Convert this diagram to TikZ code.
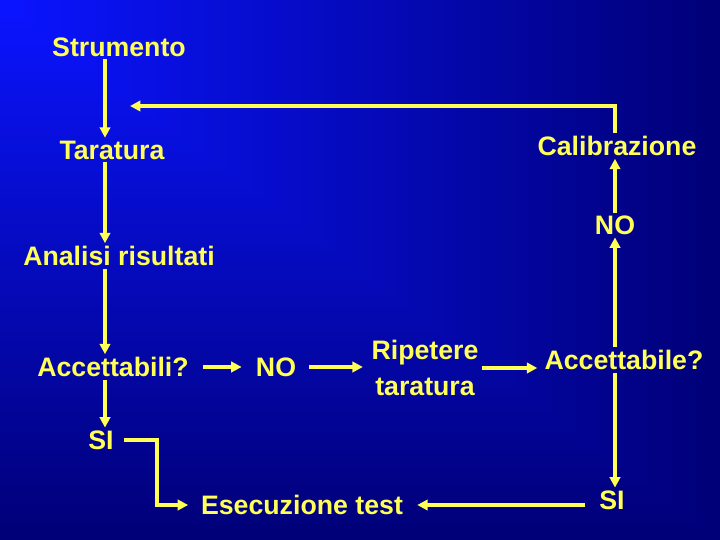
\documentclass[tikz,border=0pt]{standalone}
\usepackage{fontspec}
\setmainfont{Liberation Sans}
\usetikzlibrary{arrows.meta}
\definecolor{bgtl}{HTML}{0A14FF}
\definecolor{bgnv}{HTML}{000078}
\definecolor{txtyel}{HTML}{FFFF55}

\begin{document}
\begin{tikzpicture}[
  >={Triangle[length=2.6mm, width=2.6mm]},
  lab/.style={text=txtyel, font=\fontsize{19}{21}\selectfont\bfseries,
    inner sep=2pt, text depth=0pt, align=center},
  conn/.style={draw=txtyel, line width=2.4pt}
]
% background, brightest in the top left corner
\foreach \i in {0,...,59} {
  \pgfmathsetmacro\t{1-\i/60}
  \pgfmathsetmacro\p{100*\i/59}
  \fill[bgtl!\p!bgnv] (0,13.5) rectangle (18*\t,13.5-13.5*\t);
}
\useasboundingbox (0,0) rectangle (18,13.5);
% the two columns of vertical connectors
\coordinate (lx) at (2.625,0);
\coordinate (rx) at (15.375,0);
\coordinate (elb) at (3.925,0);
\coordinate (back) at (3.25,10.85);
% left column
\node[lab] (strum) at (2.975,12.325) {Strumento};
\node[lab] (tar) at (2.8,9.75) {Taratura};
\node[lab] (anal) at (2.975,7.1) {Analisi risultati};
\node[lab] (acci) at (2.825,4.325) {Accettabili?};
\node[lab] (siA) at (2.525,2.5) {SI};
\draw[conn, ->] (strum.south -| lx) -- (tar.north -| lx);
\draw[conn, ->] (tar.south -| lx) -- (anal.north -| lx);
\draw[conn, ->] (anal.south -| lx) -- (acci.north -| lx);
\draw[conn, ->] (acci.south -| lx) -- (siA.north -| lx);
% middle row
\node[lab] (noA) at (6.9,4.325) {NO};
\node[lab, font=\fontsize{19}{26}\selectfont\bfseries] (rip) at (10.625,4.3)
  {Ripetere\\ taratura};
\draw[conn, ->, shorten <=8pt, shorten >=8pt] (acci.east) -- (noA.west);
\draw[conn, ->, shorten <=7pt, shorten >=4pt] (noA.east) -- (noA.east -| rip.west);
% right column
\node[lab] (acce) at (15.6,4.5) {Accettabile?};
\node[lab] (noB) at (15.375,7.875) {NO};
\node[lab] (cal) at (15.425,9.85) {Calibrazione};
\node[lab] (siB) at (15.3,1.0) {SI};
\draw[conn, ->, shorten >=3pt] (rip.east) -- (rip.east -| acce.west);
\draw[conn, ->] (acce.north -| rx) -- (noB.south -| rx);
\draw[conn, ->] (noB.north -| rx) -- (cal.south -| rx);
\draw[conn, ->] (cal.north -| rx) |- (back);
\draw[conn, ->] (acce.south -| rx) -- (siB.north -| rx);
% bottom row
\node[lab] (ese) at (7.55,0.875) {Esecuzione test};
\draw[conn, ->, shorten <=8pt, shorten >=8pt] (siB.west |- ese.east) -- (ese.east);
\draw[conn, ->, shorten >=7pt] ([xshift=5pt]siA.east) -- (siA.east -| elb)
  |- (ese.west);
\end{tikzpicture}
\end{document}
